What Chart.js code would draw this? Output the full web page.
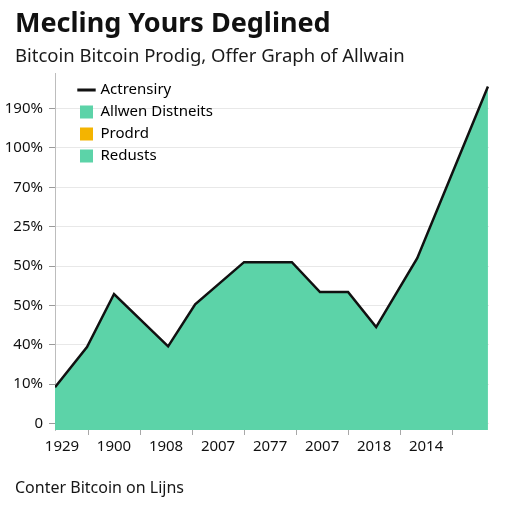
<!DOCTYPE html>
<html>
<head>
<meta charset="utf-8">
<script src="https://cdn.jsdelivr.net/npm/chart.js@4.4.0/dist/chart.umd.min.js"></script>
<style>
  html, body { margin: 0; padding: 0; background: #fff; }
</style>
</head>
<body>
<canvas id="myChart" width="512" height="512"></canvas>
<script>
var titleText = 'Mecling Yours Deglined';
var subtitleText = 'Bitcoin Bitcoin Prodig, Offer Graph of Allwain';
var footerText = 'Conter Bitcoin on Lijns';

// tick labels: x labels sit on steps 0..7, y labels on steps 0..8
var xLabels = ['1929', '1900', '1908', '2007', '2077', '2007', '2018', '2014'];
var yLabels = ['0', '10%', '40%', '50%', '50%', '25%', '70%', '100%', '190%'];

// the area line, x in label steps, y in axis steps
var xPos = [-0.135, 0.48, 1.0, 2.04, 2.56, 3.5, 4.42, 4.96, 5.5, 6.04, 6.83, 8.19];
var yVals = [0.92, 1.94, 3.29, 1.96, 3.03, 4.10, 4.10, 3.34, 3.34, 2.45, 4.20, 8.56];

var legendNames = ['Actrensiry', 'Allwen Distneits', 'Prodrd', 'Redusts'];
var legendColors = ['#111111', '#5cd3a8', '#f4b400', '#5cd3a8'];

var points = [];
for (var i = 0; i < xPos.length; i++) {
  points.push({ x: xPos[i], y: yVals[i] });
}

Chart.defaults.font.family = "'Noto Sans', sans-serif";

// legend goes in the top left of the plot, titles a bit right of the y labels
var boxNudge = {
  id: 'boxNudge',
  afterLayout: function(chart) {
    var area = chart.chartArea;
    chart.legend.left = area.left + 18;
    chart.legend.top = area.top + 2;
    chart.legend.bottom = area.bottom;
    chart.boxes.forEach(function(b) {
      if (b !== chart.legend && b.options && typeof b.options.text === 'string') {
        b.left += 10;
      }
    });
  }
};

var footerNote = {
  id: 'footerNote',
  afterDraw: function(chart) {
    var ctx = chart.ctx;
    ctx.save();
    ctx.font = "16px 'Noto Sans'";
    ctx.fillStyle = '#161616';
    ctx.textBaseline = 'middle';
    ctx.fillText(footerText, 15, chart.height - 24);
    ctx.restore();
  }
};

const config = {
  type: 'line',
  data: {
    datasets: [{
      label: legendNames[0],
      data: points,
      borderColor: '#111111',
      borderWidth: 2.5,
      backgroundColor: '#5cd3a8',
      fill: 'start',
      tension: 0,
      pointRadius: 0
    }]
  },
  options: {
    responsive: false,
    animation: false,
    layout: { padding: { left: 5, right: 23, top: 0, bottom: 53 } },
    plugins: {
      title: {
        display: true,
        text: titleText,
        align: 'start',
        color: '#111',
        font: { size: 27, weight: 'bold' },
        padding: { top: 8, bottom: 0 }
      },
      subtitle: {
        display: true,
        text: subtitleText,
        align: 'start',
        color: '#1a1a1a',
        font: { size: 18.5 },
        padding: { top: 5, bottom: 6 }
      },
      legend: {
        position: 'chartArea',
        align: 'start',
        labels: {
          usePointStyle: true,
          boxWidth: 13,
          boxHeight: 13,
          padding: 7,
          color: '#111',
          font: { size: 15 },
          generateLabels: function(chart) {
            var items = [];
            for (let i = 0; i < legendNames.length; i++) {
              items.push({
                text: legendNames[i],
                fillStyle: legendColors[i],
                strokeStyle: legendColors[i],
                lineWidth: i === 0 ? 3 : 0,
                pointStyle: i === 0 ? 'line' : 'rect',
                hidden: false,
                datasetIndex: 0
              });
            }
            return items;
          }
        }
      },
      tooltip: { enabled: false }
    },
    scales: {
      x: {
        type: 'linear',
        min: -0.135,
        max: 8.21,
        border: { display: false },
        grid: {
          offset: true,
          drawOnChartArea: false,
          tickLength: 5,
          color: '#a8a8a8'
        },
        ticks: {
          stepSize: 1,
          includeBounds: false,
          autoSkip: false,
          maxRotation: 0,
          padding: 3,
          color: '#111',
          font: { size: 15 },
          callback: function(v) {
            var k = Math.round(v);
            return xLabels[k] !== undefined ? xLabels[k] : '';
          }
        }
      },
      y: {
        min: -0.165,
        max: 8.89,
        afterFit: function(scale) { scale.width = 50; },
        border: { color: '#bdbdbd' },
        grid: {
          color: '#e8e8e8',
          tickColor: '#9a9a9a',
          tickLength: 6
        },
        ticks: {
          stepSize: 1,
          includeBounds: false,
          padding: 6,
          color: '#111',
          font: { size: 15 },
          callback: function(v) {
            var k = Math.round(v);
            return yLabels[k] !== undefined ? yLabels[k] : '';
          }
        }
      }
    }
  },
  plugins: [boxNudge, footerNote]
};

const myChart = new Chart(document.getElementById('myChart'), config);
</script>
</body>
</html>
